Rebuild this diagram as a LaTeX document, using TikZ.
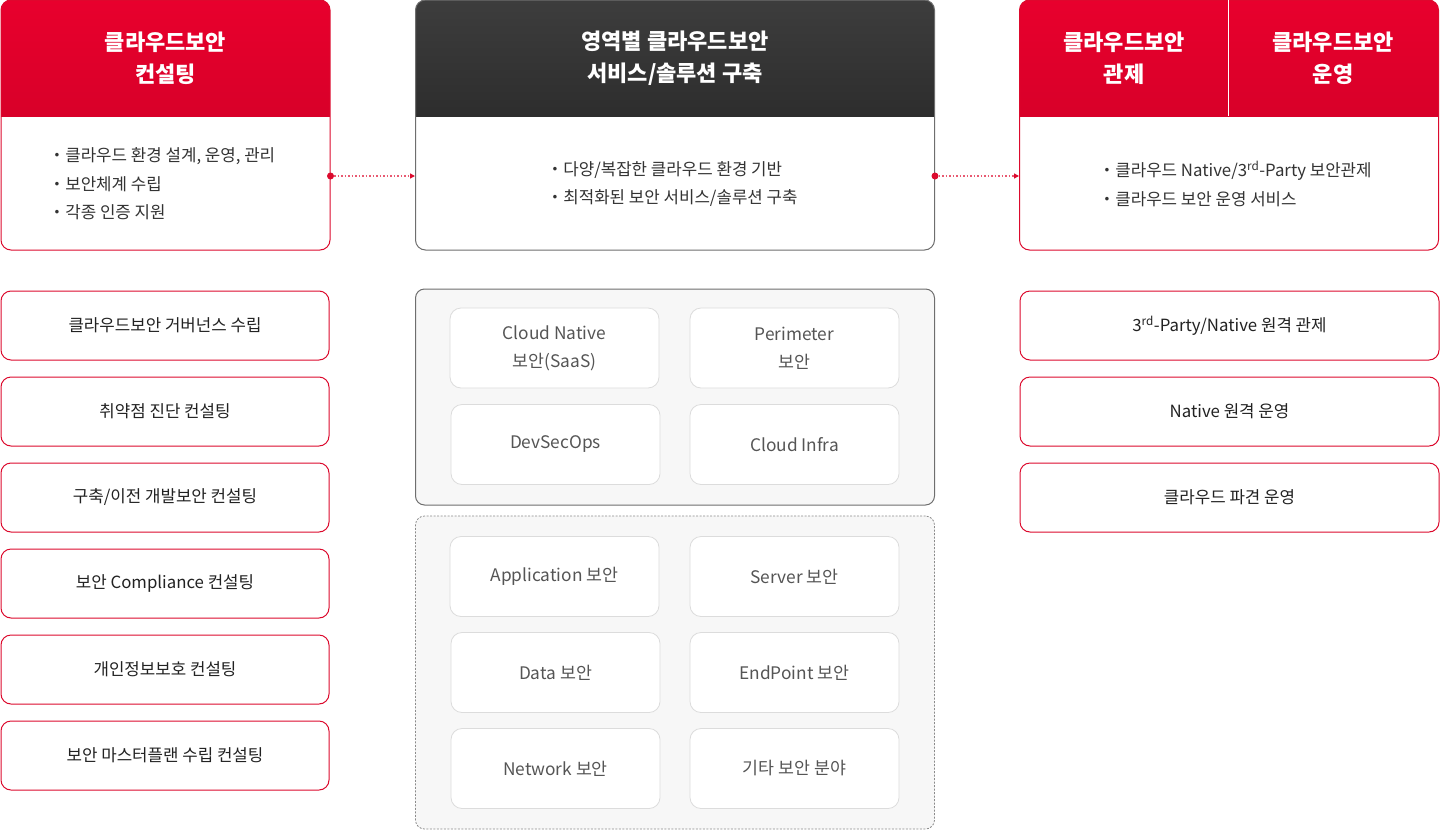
\documentclass[tikz,border=0pt]{standalone}
\usepackage{fontspec}
\setmainfont{Noto Sans CJK KR}
\usetikzlibrary{arrows.meta}
\definecolor{cred}{HTML}{DC0A2D}
\definecolor{htop}{HTML}{E8002D}
\definecolor{hbot}{HTML}{C60024}
\definecolor{dtop}{HTML}{3D3D3D}
\definecolor{dbot}{HTML}{1B1B1B}
\definecolor{txt}{HTML}{333333}
\definecolor{ltxt}{HTML}{222222}
\definecolor{gtxt}{HTML}{555555}
\definecolor{gborder}{HTML}{DCDCDC}
\definecolor{gfill}{HTML}{F7F7F7}
\definecolor{gline}{HTML}{6E6E6E}
\definecolor{pinkline}{HTML}{E85A72}
\tikzset{
  topbox/.style={draw=#1, line width=1pt, rounded corners=10pt, fill=white,
    minimum height=250pt, inner sep=0pt},
  redhead/.style={path picture={\shade[sharp corners,top color=htop,bottom color=hbot]
    (path picture bounding box.north west) rectangle ([yshift=-116pt]path picture bounding box.north east);}},
  darkhead/.style={path picture={\shade[sharp corners,top color=dtop,bottom color=dbot]
    (path picture bounding box.north west) rectangle ([yshift=-116pt]path picture bounding box.north east);}},
  headtxt/.style={text=white, font=\fontsize{22}{32}\selectfont\bfseries, align=center},
  bul/.style={text=txt, font=\fontsize{16.8}{28.5}\selectfont, align=left, anchor=west},
  listbox/.style={draw=cred, line width=1pt, rounded corners=10pt, fill=white,
    minimum height=69pt, text=ltxt, font=\fontsize{16.8}{20}\selectfont},
  grpbox/.style={fill=gfill, rounded corners=9pt, minimum width=519pt, inner sep=0pt},
  cell/.style={draw=gborder, line width=0.8pt, fill=white, rounded corners=11pt,
    minimum width=209pt, minimum height=80pt, text=gtxt,
    font=\fontsize{17.3}{28}\selectfont, align=center},
  link/.style={draw=pinkline, line width=1.2pt, dash pattern=on 1.5pt off 2pt,
    -{Triangle[length=5pt,width=5pt,fill=cred,color=cred]}},
  linkdot/.style={fill=cred}
}
\begin{document}
\begin{tikzpicture}[x=1pt,y=-1pt]
\useasboundingbox (0,0) rectangle (1440,830);

% top boxes
\node[topbox=cred, redhead, minimum width=329pt] (lt) at (165.5,125) {};
\node[topbox=gline, darkhead, minimum width=519pt] (ct) at (675,125) {};
\node[topbox=cred, redhead, minimum width=419pt] (rt) at (1229,125) {};
\draw[white, line width=1.2pt] ([xshift=-0.5pt]rt.north) -- ++(0,116);

% header texts
\node[headtxt] (lth) at (165.5,58) {클라우드보안\\컨설팅};
\node[headtxt] (cth) at (675,58) {영역별 클라우드보안\\서비스/솔루션 구축};
\node[headtxt] (rth1) at (1124,58) {클라우드보안\\관제};
\node[headtxt] (rth2) at (1333,58) {클라우드보안\\운영};

% bullets
\node[bul] (ltb) at (45,184) {・클라우드 환경 설계, 운영, 관리\\・보안체계 수립\\・각종 인증 지원};
\node[bul] (ctb) at (543,184) {・다양/복잡한 클라우드 환경 기반\\・최적화된 보안 서비스/솔루션 구축};
\node[bul] (rtb) at (1095,184) {・클라우드 Native/3\textsuperscript{rd}-Party 보안관제\\・클라우드 보안 운영 서비스};

% connectors
\coordinate (c1s) at ([yshift=-51pt]lt.east);
\coordinate (c1e) at ([yshift=-51pt]ct.west);
\coordinate (c2s) at ([yshift=-51pt]ct.east);
\coordinate (c2e) at ([yshift=-51pt]rt.west);
\draw[link] (c1s) -- (c1e);
\draw[link] (c2s) -- (c2e);
\fill[linkdot] (c1s) circle (3.5pt);
\fill[linkdot] (c2s) circle (3.5pt);

% left list
\node[listbox, minimum width=328pt] (l1) at (165,325.5) {클라우드보안 거버넌스 수립};
\node[listbox, minimum width=328pt] (l2) at (165,411.5) {취약점 진단 컨설팅};
\node[listbox, minimum width=328pt] (l3) at (165,497.5) {구축/이전 개발보안 컨설팅};
\node[listbox, minimum width=328pt] (l4) at (165,583.5) {보안 Compliance 컨설팅};
\node[listbox, minimum width=328pt] (l5) at (165,669.5) {개인정보보호 컨설팅};
\node[listbox, minimum width=328pt] (l6) at (165,755.5) {보안 마스터플랜 수립 컨설팅};

% right list
\node[listbox, minimum width=419pt] (r1) at (1229.5,325.5) {3\textsuperscript{rd}-Party/Native 원격 관제};
\node[listbox, minimum width=419pt] (r2) at (1229.5,411.5) {Native 원격 운영};
\node[listbox, minimum width=419pt] (r3) at (1229.5,497.5) {클라우드 파견 운영};

% center groups
\node[grpbox, draw=gline, line width=1pt, minimum height=216pt] (g1) at (675,397) {};
\node[grpbox, draw=gline!80, line width=0.8pt, dash pattern=on 2pt off 1.5pt, minimum height=313pt] (g2) at (675,672.5) {};

\node[cell] (a1) at (554.5,348) {Cloud Native\\보안(SaaS)};
\node[cell] (a2) at (794.5,348) {Perimeter\\보안};
\node[cell] (a3) at (555.5,444.5) {DevSecOps};
\node[cell] (a4) at (794.5,444.5) {Cloud Infra};

\node[cell] (b1) at (554.5,576.5) {Application 보안};
\node[cell] (b2) at (794.5,576.5) {Server 보안};
\node[cell] (b3) at (555.5,672.5) {Data 보안};
\node[cell] (b4) at (794.5,672.5) {EndPoint 보안};
\node[cell] (b5) at (555.5,768.5) {Network 보안};
\node[cell] (b6) at (794.5,768.5) {기타 보안 분야};
\end{tikzpicture}
\end{document}
